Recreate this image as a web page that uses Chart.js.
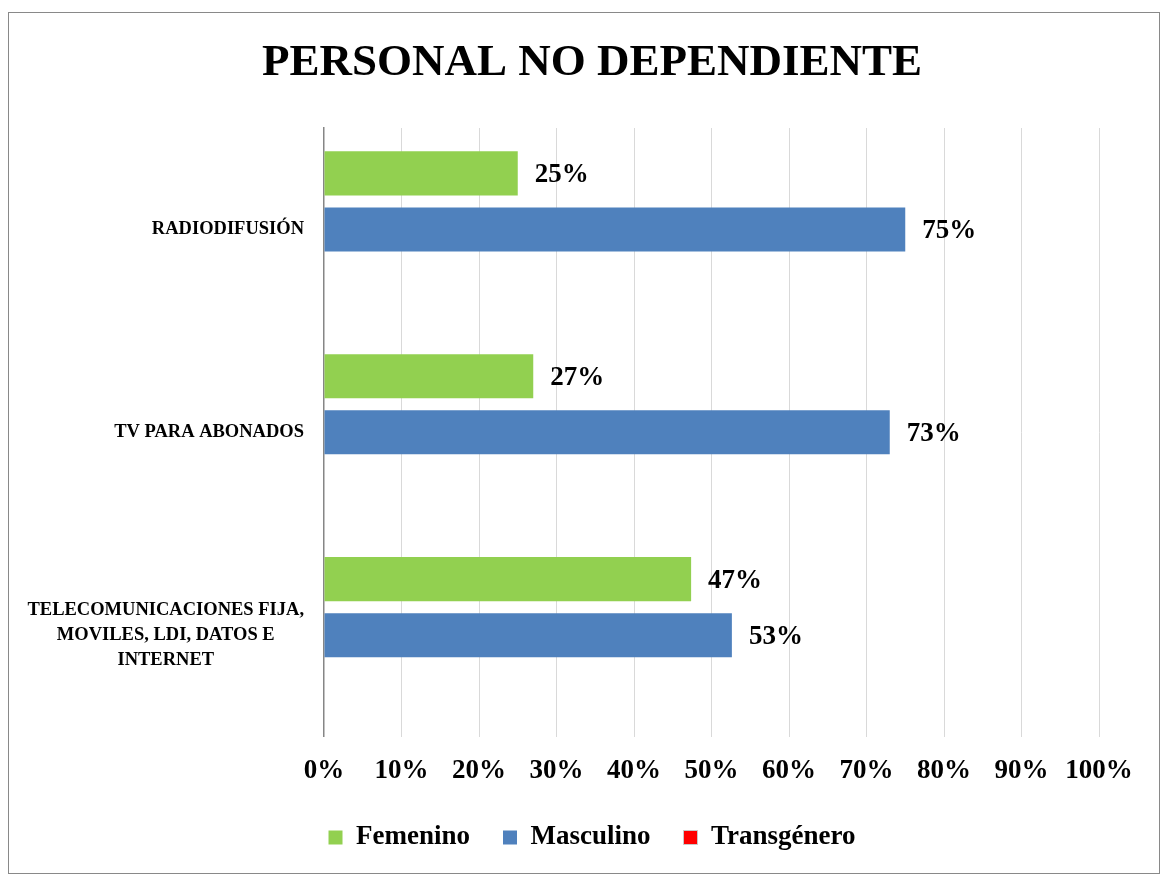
<!DOCTYPE html>
<html>
<head>
<meta charset="utf-8">
<script src="https://cdn.jsdelivr.net/npm/chart.js@4"></script>
<style>
  body { margin: 0; background: #fff; }
  #wrap { position: absolute; left: 0; top: 0; width: 1168px; height: 877px; }
</style>
</head>
<body>
<div id="wrap"><canvas id="grafico"></canvas></div>
<script>
// datos
const categorias = ['RADIODIFUSIÓN', 'TV PARA ABONADOS', ['TELECOMUNICACIONES FIJA,', 'MOVILES, LDI, DATOS E', 'INTERNET']];
const femenino = [0.25, 0.27, 0.4737];
const masculino = [0.75, 0.73, 0.5263];
const transgenero = [0, 0, 0];
const ticksX = [0, 0.1, 0.2, 0.3, 0.4, 0.5, 0.6, 0.7, 0.8, 0.9, 1];

const FUENTE = "'Liberation Serif', 'Times New Roman', serif";

const marcoPlugin = {
  id: 'marco',
  beforeDraw(chart) {
    const ctx = chart.ctx;
    ctx.save();
    ctx.fillStyle = '#fff';
    ctx.fillRect(0, 0, chart.width, chart.height);
    ctx.strokeStyle = '#898989';
    ctx.lineWidth = 1;
    ctx.strokeRect(8.5, 12.5, 1151, 861);
    ctx.restore();
  }
};

// etiquetas de categoria: bloque alineado a la derecha, lineas centradas
const etiquetasY = {
  id: 'etiquetasY',
  afterDraw(chart) {
    const ctx = chart.ctx;
    const y = chart.scales.y;
    ctx.save();
    ctx.font = 'bold 18.5px ' + FUENTE;
    ctx.fillStyle = '#000';
    ctx.textBaseline = 'middle';
    ctx.textAlign = 'center';
    categorias.forEach((cat, i) => {
      const lineas = Array.isArray(cat) ? cat : [cat];
      const ancho = Math.max(...lineas.map(l => ctx.measureText(l).width));
      const cx = 304 - ancho / 2;
      const cy = y.getPixelForValue(i);
      const alto = 25;
      lineas.forEach((l, j) => {
        ctx.fillText(l, cx, cy + (j - (lineas.length - 1) / 2) * alto);
      });
    });
    ctx.restore();
  }
};

const etiquetasDatos = {
  id: 'etiquetasDatos',
  afterDatasetsDraw(chart) {
    const ctx = chart.ctx;
    ctx.save();
    ctx.font = 'bold 27px ' + FUENTE;
    ctx.fillStyle = '#000';
    ctx.textBaseline = 'middle';
    ctx.textAlign = 'left';
    chart.data.datasets.forEach((ds, di) => {
      const meta = chart.getDatasetMeta(di);
      meta.data.forEach((bar, i) => {
        const v = ds.data[i];
        if (!v) return;
        ctx.fillText(Math.round(v * 100) + '%', bar.x + 17, bar.y + 2);
      });
    });
    ctx.restore();
  }
};

new Chart(document.getElementById('grafico'), {
  type: 'bar',
  data: {
    labels: categorias,
    datasets: [
      { label: 'Femenino', data: femenino, backgroundColor: '#92d050' },
      { label: 'Masculino', data: masculino, backgroundColor: '#4f81bd' },
      { label: 'Transgénero', data: transgenero, backgroundColor: '#ff0000' }
    ]
  },
  options: {
    indexAxis: 'y',
    responsive: true,
    maintainAspectRatio: false,
    animation: false,
    categoryPercentage: 0.829,
    barPercentage: 0.786,
    layout: { padding: { left: 85, right: 69, top: 0, bottom: 16 } },
    plugins: {
      title: {
        display: true,
        text: 'PERSONAL NO DEPENDIENTE',
        color: '#000',
        font: { family: FUENTE, size: 45, weight: 'bold' },
        padding: { top: 36, bottom: 38 }
      },
      legend: {
        position: 'bottom',
        labels: {
          color: '#000',
          font: { family: FUENTE, size: 27, weight: 'bold' },
          boxWidth: 14,
          boxHeight: 14,
          padding: 33,
          generateLabels(chart) {
            return chart.data.datasets.map((ds, i) => ({
              text: ds.label,
              fillStyle: ds.backgroundColor,
              strokeStyle: i === 2 ? '#c8c8c8' : ds.backgroundColor,
              lineWidth: i === 2 ? 1 : 0,
              datasetIndex: i,
              hidden: false,
              fontColor: '#000'
            }));
          }
        }
      },
      tooltip: { enabled: false }
    },
    scales: {
      x: {
        min: 0,
        max: 1,
        afterBuildTicks(scale) {
          scale.ticks = ticksX.map(v => ({ value: v }));
        },
        afterFit(scale) { scale.height -= 14; },
        ticks: {
          color: '#000',
          font: { family: FUENTE, size: 27, weight: 'bold' },
          padding: 18,
          maxRotation: 0,
          autoSkip: false,
          callback: v => Math.round(v * 100) + '%'
        },
        grid: {
          color: ctx => ctx.index === 0 ? 'rgba(0,0,0,0)' : '#d9d9d9',
          lineWidth: 1,
          drawTicks: false
        },
        border: { display: false }
      },
      y: {
        afterFit(scale) { scale.width = 239; },
        ticks: { display: false },
        grid: { display: false, drawTicks: false },
        border: { display: true, color: '#868686', width: 1.5 }
      }
    }
  },
  plugins: [marcoPlugin, etiquetasY, etiquetasDatos]
});
</script>
</body>
</html>
